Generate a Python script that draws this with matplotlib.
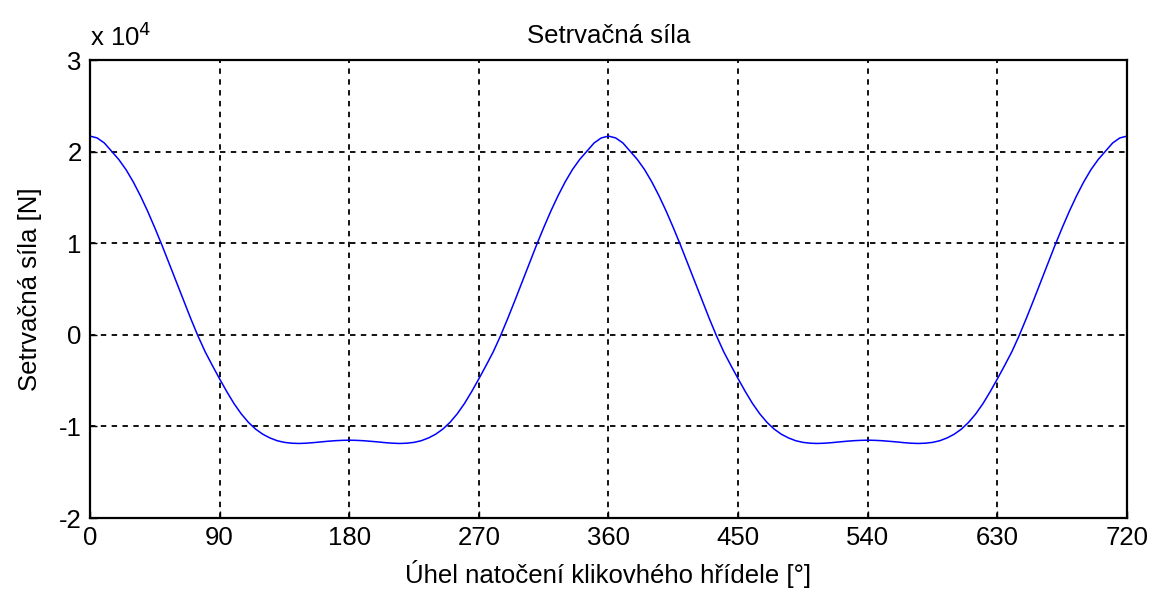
import numpy as np
import matplotlib
matplotlib.use("Agg")
import matplotlib.pyplot as plt

plt.rcParams['font.family'] = ['Liberation Sans', 'DejaVu Sans']
plt.rcParams['axes.unicode_minus'] = False

# uhel natoceni po 5 stupnich, sila v 1e4 N
uhel = np.arange(0, 721, 5)
sila = [
    # 0 .. 180
    2.170, 2.150, 2.095, 2.005, 1.915, 1.805, 1.672, 1.520, 1.352, 1.170,
    0.979, 0.778, 0.575, 0.374, 0.177, -0.012, -0.185, -0.335, -0.480, -0.620,
    -0.750, -0.862, -0.955, -1.029, -1.085, -1.126, -1.156, -1.174, -1.183, -1.186,
    -1.183, -1.177, -1.169, -1.162, -1.156, -1.152, -1.150,
    # 185 .. 360
    -1.152, -1.156, -1.162, -1.169, -1.177, -1.183, -1.186, -1.183, -1.174, -1.156,
    -1.126, -1.085, -1.029, -0.955, -0.862, -0.750, -0.620, -0.480, -0.335, -0.185,
    -0.012, 0.177, 0.374, 0.575, 0.778, 0.979, 1.170, 1.352, 1.520, 1.672,
    1.805, 1.915, 2.005, 2.095, 2.150, 2.170,
    # 365 .. 540
    2.150, 2.095, 2.005, 1.915, 1.805, 1.672, 1.520, 1.352, 1.170,
    0.979, 0.778, 0.575, 0.374, 0.177, -0.012, -0.185, -0.335, -0.480, -0.620,
    -0.750, -0.862, -0.955, -1.029, -1.085, -1.126, -1.156, -1.174, -1.183, -1.186,
    -1.183, -1.177, -1.169, -1.162, -1.156, -1.152, -1.150,
    # 545 .. 720
    -1.152, -1.156, -1.162, -1.169, -1.177, -1.183, -1.186, -1.183, -1.174, -1.156,
    -1.126, -1.085, -1.029, -0.955, -0.862, -0.750, -0.620, -0.480, -0.335, -0.185,
    -0.012, 0.177, 0.374, 0.575, 0.778, 0.979, 1.170, 1.352, 1.520, 1.672,
    1.805, 1.915, 2.005, 2.095, 2.150, 2.170,
]
xticks = [0, 90, 180, 270, 360, 450, 540, 630, 720]
yticks = [-2, -1, 0, 1, 2, 3]

fig = plt.figure(figsize=(11.53, 5.89), dpi=100)
ax = fig.add_axes([0.078, 0.1205, 0.8995, 0.7775])

ax.plot(uhel, sila, color='blue', lw=1.1)

ax.set_xlim(0, 720)
ax.set_ylim(-2, 3)
ax.set_xticks(xticks)
ax.set_yticks(yticks)
ax.tick_params(direction='in', length=5, width=1, labelsize=18.5, pad=6)
ax.grid(True, color='black', linestyle=(0, (3, 3)), linewidth=1.3)
for s in ax.spines.values():
    s.set_linewidth(1.6)

ax.set_title('Setrvačná síla', fontsize=18.5, pad=12)
ax.set_xlabel('Úhel natočení klikovhého hřídele [°]', fontsize=18.5, labelpad=7)
ax.set_ylabel('Setrvačná síla [N]', fontsize=18.5, labelpad=12)
ax.text(0.0, 1.02, r'x 10$^4$', transform=ax.transAxes, fontsize=18.5,
        ha='left', va='bottom')

fig.savefig('out.png', dpi=100)
